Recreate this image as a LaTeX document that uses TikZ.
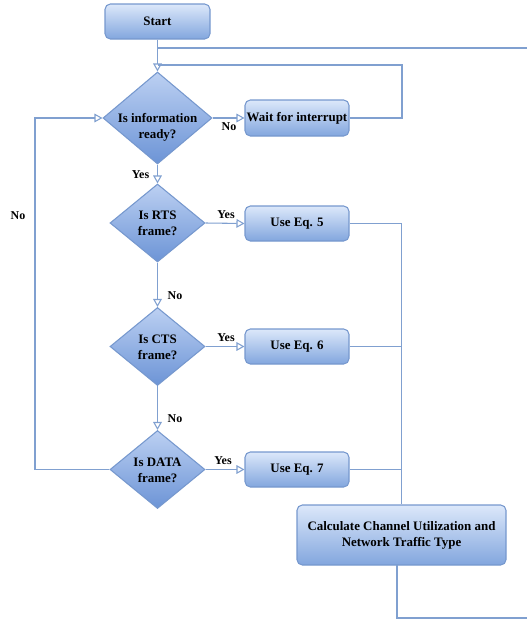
\documentclass[tikz,border=0pt]{standalone}
\usepackage{fontspec}
\setmainfont{Liberation Serif}
\usetikzlibrary{arrows.meta,shapes.geometric}
\definecolor{linec}{RGB}{128,160,208}
\definecolor{boxtop}{RGB}{220,232,250}
\definecolor{boxbot}{RGB}{130,166,222}
\definecolor{boxdraw}{RGB}{118,152,206}
\definecolor{dtop}{RGB}{188,208,242}
\definecolor{dbot}{RGB}{108,148,214}
\newcommand{\dtxt}[2]{\raisebox{#1}[0pt][0pt]{\makebox[0pt]{\begin{tabular}{@{}c@{}}#2\end{tabular}}}}
\begin{document}
\begin{tikzpicture}[x=0.75pt,y=-0.75pt,
  font=\fontsize{9.7}{12}\selectfont\bfseries,
  procbox/.style={draw=boxdraw, line width=0.8pt, rounded corners=4pt,
    top color=boxtop, bottom color=boxbot, inner sep=0pt, align=center},
  decbox/.style={diamond, draw=boxdraw, line width=0.8pt,
    top color=dtop, bottom color=dbot, inner sep=0pt, align=center},
  ln/.style={draw=linec, line width=0.8pt},
  arr/.style={ln, -{Triangle[open, length=6pt, width=6.5pt]}},
  lbl/.style={font=\fontsize{9}{11}\selectfont\bfseries, inner sep=0pt}
]
\useasboundingbox (0,0) rectangle (527,621);

% nodes
\node[procbox, minimum width=78.75pt, minimum height=26.25pt] (start) at (157.5,21.5) {Start};
\node[decbox, minimum width=81.75pt, minimum height=69pt] (d1) at (157.5,118) {\dtxt{-9.8pt}{Is information\\ready?}};
\node[procbox, minimum width=78pt, minimum height=27pt] (wait) at (297,118) {Wait for interrupt};
\node[decbox, minimum width=71.25pt, minimum height=58.5pt] (d2) at (157.5,223) {\dtxt{-3.8pt}{Is RTS\\frame?}};
\node[procbox, minimum width=78pt, minimum height=26.25pt] (eq5) at (297,223.5) {Use Eq. 5};
\node[decbox, minimum width=71.25pt, minimum height=58.5pt] (d3) at (157.5,346.5) {\dtxt{-3.8pt}{Is CTS\\frame?}};
\node[procbox, minimum width=78pt, minimum height=26.25pt] (eq6) at (297,346.5) {Use Eq. 6};
\node[decbox, minimum width=71.25pt, minimum height=58.5pt] (d4) at (157.5,469.5) {\dtxt{-3.8pt}{Is DATA\\frame?}};
\node[procbox, minimum width=78pt, minimum height=26.25pt] (eq7) at (297,469.5) {Use Eq. 7};
\node[procbox, minimum width=156.75pt, minimum height=45pt] (calc) at (401.5,535) {Calculate Channel Utilization and\\Network Traffic Type};

% helper coordinates
\coordinate (j0) at (157.5,48);
\coordinate (rtop) at (527,48);
\coordinate (j1) at (157.5,65);
\coordinate (wr) at (402,65);
\coordinate (lt) at (35,118);
\coordinate (cb) at (397,565);
\coordinate (rb) at (527,618);

% connectors
\draw[arr] (start) -- (d1);
\draw[ln] (j0) -- (rtop);
\draw[ln] (wait.east) -| (wr) -- (j1);
\draw[arr] (d1.east) -- (wait.west);
\draw[arr] (d1.south) -- (d2.north);
\draw[arr] (d2.east) -- (eq5.west);
\draw[arr] (d2.south) -- (d3.north);
\draw[arr] (d3.east) -- (eq6.west);
\draw[arr] (d3.south) -- (d4.north);
\draw[arr] (d4.east) -- (eq7.west);
\draw[arr] (d4.west) -| (lt) -- (d1.west);
\draw[ln] (eq5.east) -| (calc.north);
\draw[ln] (eq6.east) -- (eq6.east -| calc.north);
\draw[ln] (eq7.east) -- (eq7.east -| calc.north);
\draw[ln] (cb) |- (rb);

% labels
\node[lbl] (l1) at (229,127) {No};
\node[lbl] (l2) at (140.5,175) {Yes};
\node[lbl] (l3) at (226,215) {Yes};
\node[lbl] (l4) at (175,296) {No};
\node[lbl] (l5) at (226,338) {Yes};
\node[lbl] (l6) at (175,419) {No};
\node[lbl] (l7) at (223,461) {Yes};
\node[lbl] (l8) at (18,216) {No};
\end{tikzpicture}
\end{document}
